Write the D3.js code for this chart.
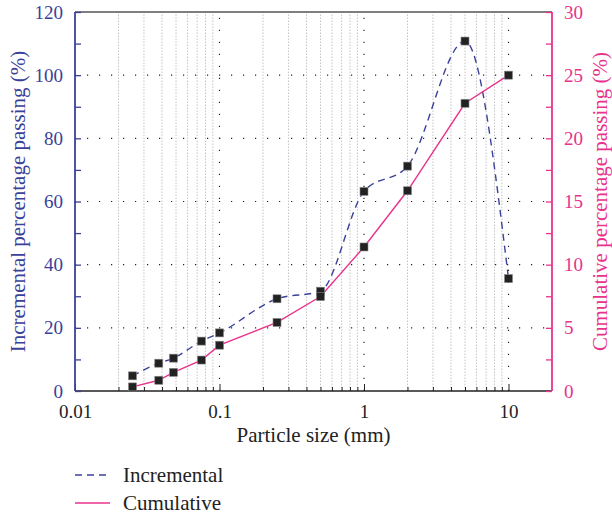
<!DOCTYPE html>
<html>
<head>
<meta charset="utf-8">
<title>Particle size distribution</title>
<script src="https://d3js.org/d3.v7.min.js"></script>
<style>
  body { margin: 0; background: #fff; }
  svg { font-family: "Liberation Serif", "Times New Roman", serif; }
</style>
</head>
<body>
<div id="chart"></div>
<script>
// ---- data ----
const sizes       = [0.025, 0.038, 0.048, 0.075, 0.1, 0.25, 0.5, 1, 2, 5, 10];    // mm
const incremental = [1.2, 2.2, 2.6, 3.95, 4.6, 7.3, 7.9, 15.8, 17.8, 27.7, 8.9]; // right scale
const cumulative  = [1.3, 3.4, 5.9, 9.8, 14.5, 21.7, 29.9, 45.6, 63.4, 91.1, 100]; // left scale
const leftTicks   = [0, 20, 40, 60, 80, 100, 120];
const rightTicks  = [0, 5, 10, 15, 20, 25, 30];
const xTicks      = [0.01, 0.1, 1, 10];

const W = 612, H = 518;
const margin = { top: 12, right: 60, bottom: 127, left: 75 };
const blue = "#3b4199", pink = "#e8338c";

const svg = d3.select("#chart").append("svg")
    .attr("width", W).attr("height", H);

const x = d3.scaleLog().domain([0.01, 20]).range([margin.left, W - margin.right]);
const yL = d3.scaleLinear().domain([0, 120]).range([H - margin.bottom, margin.top]);
const yR = d3.scaleLinear().domain([0, 30]).range([H - margin.bottom, margin.top]);

const x0 = x.range()[0], x1 = x.range()[1];
const y0 = yL.range()[0], y1 = yL.range()[1];

// minor vertical grid (2..9 of each decade)
const minors = [];
for (let e = -2; e <= 1; e++) {
  for (let m = 2; m <= 9; m++) {
    const v = m * Math.pow(10, e);
    if (v < 20) minors.push(v);
  }
}
svg.append("g").selectAll("line").data(minors).join("line")
    .attr("x1", d => x(d)).attr("x2", d => x(d))
    .attr("y1", y0).attr("y2", y1)
    .attr("stroke", "#c4c4c4").attr("stroke-width", 1)
    .attr("stroke-dasharray", "1.5,1.5");

// major dotted grid
svg.append("g").selectAll("line").data(xTicks.slice(1)).join("line")
    .attr("x1", d => x(d)).attr("x2", d => x(d))
    .attr("y1", y0).attr("y2", y1)
    .attr("stroke", "#222").attr("stroke-width", 1.2)
    .attr("stroke-dasharray", "1.2,10.8");
svg.append("g").selectAll("line").data(leftTicks.slice(1, -1)).join("line")
    .attr("x1", x0).attr("x2", x1)
    .attr("y1", d => yL(d)).attr("y2", d => yL(d))
    .attr("stroke", "#222").attr("stroke-width", 1.2)
    .attr("stroke-dasharray", "1.2,10.8");

// top frame
svg.append("line")
    .attr("x1", x0).attr("x2", x1).attr("y1", y1).attr("y2", y1)
    .attr("stroke", "#555").attr("stroke-width", 1.5);

// bottom axis, ticks pointing in
const xAxis = svg.append("g").attr("transform", `translate(0,${y0})`);
xAxis.call(d3.axisBottom(x).tickValues(minors).tickSize(-4).tickFormat(""))
    .call(g => g.select(".domain").remove());
xAxis.append("g")
    .call(d3.axisBottom(x).tickValues(xTicks).tickSize(-7).tickPadding(14)
      .tickFormat(d => d3.format("~g")(d)))
    .call(g => g.select(".domain").remove())
    .call(g => g.selectAll("text").attr("font-size", 19).attr("fill", "#222")
      .attr("font-family", "Liberation Serif"));
xAxis.selectAll("line").attr("stroke", "#222");
xAxis.append("line").attr("x1", x0).attr("x2", x1)
    .attr("stroke", "#222").attr("stroke-width", 1.5);

// left axis
const minorL = d3.range(10, 120, 20);
const lAxis = svg.append("g").attr("transform", `translate(${x0},0)`);
lAxis.call(d3.axisLeft(yL).tickValues(minorL).tickSize(-6).tickFormat(""));
lAxis.append("g").call(d3.axisLeft(yL).tickValues(leftTicks).tickSize(-6).tickPadding(12));
lAxis.selectAll(".domain").remove();
lAxis.selectAll("line").attr("stroke", blue).attr("stroke-width", 1.3);
lAxis.selectAll("text").attr("font-size", 19).attr("fill", blue)
    .attr("font-family", "Liberation Serif");
lAxis.append("line").attr("y1", y0).attr("y2", y1)
    .attr("stroke", blue).attr("stroke-width", 1.8);

// right axis
const minorR = d3.range(2.5, 30, 5);
const rAxis = svg.append("g").attr("transform", `translate(${x1},0)`);
rAxis.call(d3.axisRight(yR).tickValues(minorR).tickSize(-6).tickFormat(""));
rAxis.append("g").call(d3.axisRight(yR).tickValues(rightTicks).tickSize(-6).tickPadding(12));
rAxis.selectAll(".domain").remove();
rAxis.selectAll("line").attr("stroke", pink).attr("stroke-width", 1.3);
rAxis.selectAll("text").attr("font-size", 19).attr("fill", pink)
    .attr("font-family", "Liberation Serif");
rAxis.append("line").attr("y1", y0).attr("y2", y1)
    .attr("stroke", pink).attr("stroke-width", 1.8);

// axis titles
svg.append("text")
    .attr("transform", `translate(${(x0 + x1) / 2},${y0 + 51})`)
    .attr("text-anchor", "middle").attr("font-size", 21).attr("fill", "#222")
    .text("Particle size (mm)");
svg.append("text")
    .attr("transform", `translate(25,${(y0 + y1) / 2}) rotate(-90)`)
    .attr("text-anchor", "middle").attr("font-size", 21).attr("fill", blue)
    .text("Incremental percentage passing (%)");
svg.append("text")
    .attr("transform", `translate(607,${(y0 + y1) / 2}) rotate(-90)`)
    .attr("text-anchor", "middle").attr("font-size", 21).attr("fill", pink)
    .text("Cumulative percentage passing (%)");

// series
const incData = sizes.map((s, i) => [s, incremental[i]]);
const cumData = sizes.map((s, i) => [s, cumulative[i]]);

svg.append("path").datum(incData)
    .attr("fill", "none").attr("stroke", blue).attr("stroke-width", 1.4)
    .attr("stroke-dasharray", "7,5")
    .attr("d", d3.line().x(d => x(d[0])).y(d => yR(d[1])).curve(d3.curveMonotoneX));
svg.append("path").datum(cumData)
    .attr("fill", "none").attr("stroke", pink).attr("stroke-width", 1.4)
    .attr("d", d3.line().x(d => x(d[0])).y(d => yL(d[1])));

const sq = 8;
svg.append("g").selectAll("rect").data(incData).join("rect")
    .attr("x", d => x(d[0]) - sq / 2).attr("y", d => yR(d[1]) - sq / 2)
    .attr("width", sq).attr("height", sq)
    .attr("fill", "#222").attr("stroke", "#888").attr("stroke-width", 0.6);
svg.append("g").selectAll("rect").data(cumData).join("rect")
    .attr("x", d => x(d[0]) - sq / 2).attr("y", d => yL(d[1]) - sq / 2)
    .attr("width", sq).attr("height", sq)
    .attr("fill", "#222").attr("stroke", "#888").attr("stroke-width", 0.6);

// legend
const legend = svg.append("g").attr("transform", "translate(75,475)");
legend.append("line").attr("x1", 0).attr("x2", 35)
    .attr("stroke", blue).attr("stroke-width", 1.4).attr("stroke-dasharray", "7,5");
legend.append("text").attr("x", 48).attr("y", 7).attr("font-size", 21).attr("fill", "#222")
    .text("Incremental");
legend.append("line").attr("x1", 0).attr("x2", 35).attr("y1", 28).attr("y2", 28)
    .attr("stroke", pink).attr("stroke-width", 1.4);
legend.append("text").attr("x", 48).attr("y", 35).attr("font-size", 21).attr("fill", "#222")
    .text("Cumulative");
</script>
</body>
</html>
